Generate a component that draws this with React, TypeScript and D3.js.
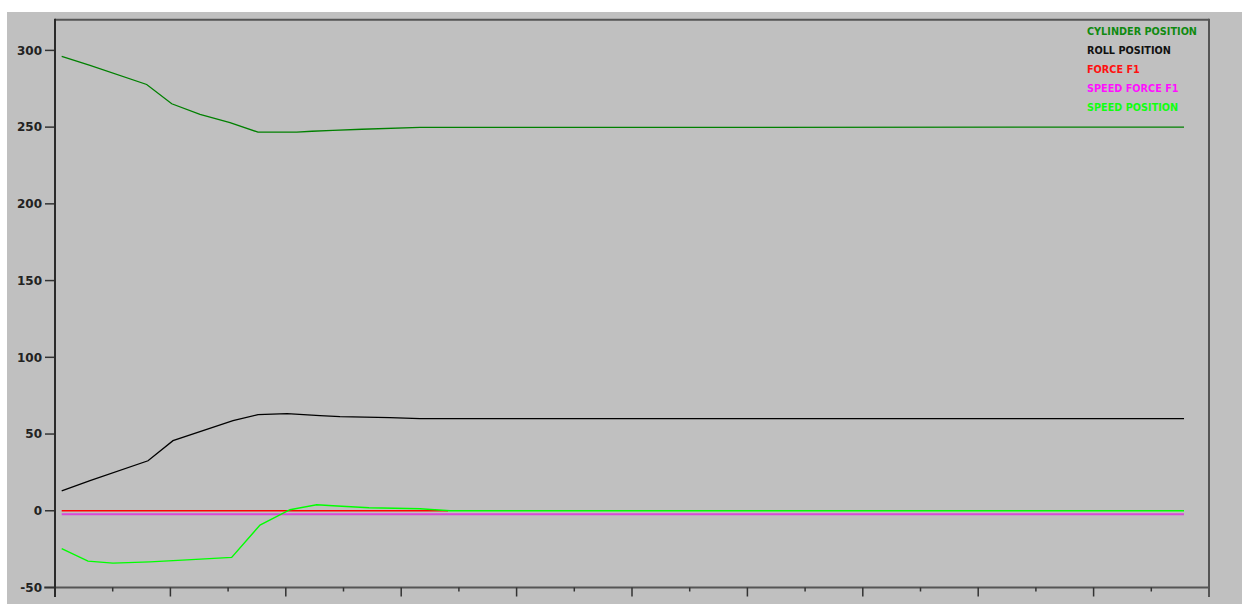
import React from "react";
import * as d3 from "d3";

const yTicks = [300, 250, 200, 150, 100, 50, 0, -50];
const xTicks = d3.range(0, 21);

const cylinderT = [0.116, 0.607, 1.589, 2.023, 2.513, 3.033, 3.518, 4.189, 4.454, 4.818, 5.321, 6.326, 19.567];
const cylinderV = [296.1, 290.2, 277.8, 265.2, 258.3, 253.0, 246.7, 246.7, 247.3, 247.9, 248.6, 249.8, 250.0];

const rollT = [0.116, 0.607, 1.612, 2.045, 3.085, 3.518, 4.021, 4.593, 4.939, 5.806, 6.326, 19.567];
const rollV = [13.0, 19.6, 32.6, 45.7, 58.7, 62.6, 63.3, 62.0, 61.3, 60.7, 60.0, 60.0];

const forceT = [0.116, 6.811];
const forceV = [0, 0];

const speedForceT = [0.116, 19.567];
const speedForceV = [-2.3, -2.3];

const speedPosT = [0.116, 0.572, 1.005, 1.646, 2.287, 3.062, 3.553, 4.073, 4.536, 4.818, 5.442, 6.326, 6.846, 19.567];
const speedPosV = [-24.6, -32.8, -34.1, -33.3, -32.0, -30.4, -9.3, 0.7, 3.9, 3.3, 2.0, 1.3, 0.0, 0.0];

const legendNames = ["CYLINDER POSITION", "ROLL POSITION", "FORCE F1", "SPEED FORCE F1", "SPEED POSITION"];
const legendColors = ["#108a10", "#111111", "#ff1010", "#ff10ff", "#10ff10"];

export default function App() {
  const left = 55, right = 1209, top = 19.7, bottom = 587.5;
  const x = d3.scaleLinear().domain([0, 20]).range([left, right]);
  const y = d3.scaleLinear().domain([-50, 320]).range([bottom, top]);
  const line = d3.line<[number, number]>().x(d => x(d[0])).y(d => y(d[1]));
  const mk = (t: number[], v: number[]) => line(t.map((tt, i) => [tt, v[i]] as [number, number])) || "";

  const series = [
    { d: mk(forceT, forceV), c: "#ff0000", w: 1.6 },
    { d: mk(speedForceT, speedForceV), c: "#d84ad8", w: 2 },
    { d: mk(speedPosT, speedPosV), c: "#00ff00", w: 1.4 },
    { d: mk(rollT, rollV), c: "#000000", w: 1.3 },
    { d: mk(cylinderT, cylinderV), c: "#008000", w: 1.3 },
  ];

  return (
    <svg width={1242} height={604} style={{ position: "absolute", left: 0, top: 0 }}>
      <rect x={7} y={12} width={1235} height={592} fill="#c0c0c0" />
      <line x1={left} x2={right} y1={top} y2={top} stroke="#555" strokeWidth={2} />
      <line x1={right} x2={right} y1={top - 1} y2={597} stroke="#555" strokeWidth={2} />
      <line x1={44} x2={right} y1={bottom} y2={bottom} stroke="#555" strokeWidth={2} />
      {xTicks.slice(1, -1).map(t => (
        <line key={t} x1={x(t)} x2={x(t)} y1={bottom} y2={bottom + (t % 2 === 0 ? 9 : 4)} stroke="#333" strokeWidth={1.5} />
      ))}
      {yTicks.map(t => (
        <g key={t}>
          <line x1={45} x2={left} y1={y(t)} y2={y(t)} stroke="#333" strokeWidth={1.5} />
          <text x={42} y={y(t)} dy="0.36em" textAnchor="end" fontFamily="DejaVu Sans" fontWeight="bold" fontSize={12} fill="#222">{t}</text>
        </g>
      ))}
      <line x1={left} x2={left} y1={top - 1} y2={597} stroke="#2a2a2a" strokeWidth={2} />
      {series.map((s, i) => (
        <path key={i} d={s.d} fill="none" stroke={s.c} strokeWidth={s.w} />
      ))}
      {legendNames.map((n, i) => (
        <text key={n} x={1087} y={34.5 + i * 19} fontFamily="DejaVu Sans" fontWeight="bold" fontSize={9.7} fill={legendColors[i]}>{n}</text>
      ))}
    </svg>
  );
}
